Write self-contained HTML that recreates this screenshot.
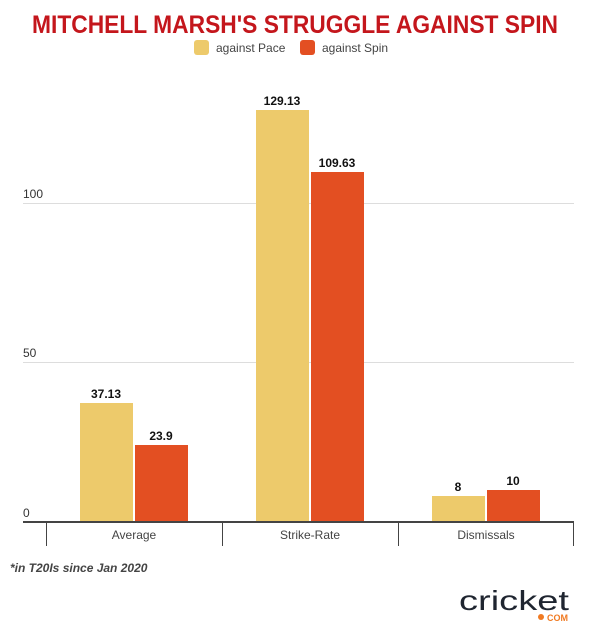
<!DOCTYPE html>
<html><head><meta charset="utf-8"><style>
body{margin:0;background:#fff;width:600px;height:635px;overflow:hidden}
svg{display:block;font-family:"Liberation Sans",sans-serif}
</style></head><body>
<svg width="600" height="635" viewBox="0 0 600 635">
<text x="295" y="33" text-anchor="middle" font-size="25" font-weight="bold" fill="#c4161c" textLength="526" lengthAdjust="spacingAndGlyphs">MITCHELL MARSH'S STRUGGLE AGAINST SPIN</text>
<rect x="194" y="40" width="15" height="15" rx="3" fill="#edca6b"/>
<text x="216" y="52" font-size="12" fill="#444">against Pace</text>
<rect x="300" y="40" width="15" height="15" rx="3" fill="#e34f22"/>
<text x="322" y="52" font-size="12" fill="#444">against Spin</text>
<g stroke="#ddd" stroke-width="1">
<line x1="23" y1="203.5" x2="574" y2="203.5"/>
<line x1="23" y1="362.5" x2="574" y2="362.5"/>
</g>
<g font-size="12" fill="#333">
<text x="23" y="198">100</text>
<text x="23" y="357">50</text>
<text x="23" y="517">0</text>
</g>
<g>
<rect x="80" y="403" width="53" height="119" fill="#edca6b"/>
<rect x="135" y="445" width="53" height="77" fill="#e34f22"/>
<rect x="256" y="110" width="53" height="412" fill="#edca6b"/>
<rect x="311" y="172" width="53" height="350" fill="#e34f22"/>
<rect x="432" y="496" width="53" height="26" fill="#edca6b"/>
<rect x="487" y="490" width="53" height="32" fill="#e34f22"/>
</g>
<g font-size="12" font-weight="bold" fill="#111" text-anchor="middle">
<text x="106" y="398">37.13</text>
<text x="161" y="440">23.9</text>
<text x="282" y="105">129.13</text>
<text x="337" y="167">109.63</text>
<text x="458" y="491">8</text>
<text x="513" y="485">10</text>
</g>
<line x1="23" y1="522" x2="574" y2="522" stroke="#444" stroke-width="2"/>
<g stroke="#444" stroke-width="1">
<line x1="46.5" y1="522" x2="46.5" y2="546"/>
<line x1="222.5" y1="522" x2="222.5" y2="546"/>
<line x1="398.5" y1="522" x2="398.5" y2="546"/>
<line x1="573.5" y1="522" x2="573.5" y2="546"/>
</g>
<g font-size="12" fill="#444" text-anchor="middle">
<text x="134" y="539">Average</text>
<text x="310" y="539">Strike-Rate</text>
<text x="486" y="539">Dismissals</text>
</g>
<text x="10" y="572" font-size="12" font-style="italic" font-weight="bold" fill="#444">*in T20Is since Jan 2020</text>
<text x="459" y="610" font-size="28" fill="#1f2530" textLength="110" lengthAdjust="spacingAndGlyphs">cricket</text>
<circle cx="541" cy="617" r="3" fill="#f07a22"/>
<text x="547" y="621" font-size="9" font-weight="bold" fill="#f07a22">COM</text>
</svg>
</body></html>
